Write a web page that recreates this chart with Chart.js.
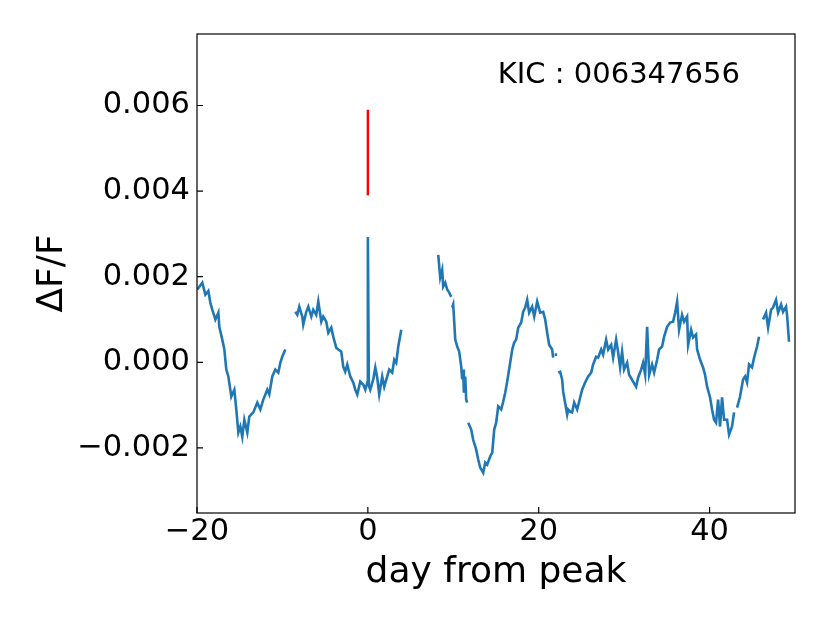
<!DOCTYPE html>
<html><head><meta charset="utf-8">
<script src="https://cdn.jsdelivr.net/npm/chart.js@4.4.1/dist/chart.umd.min.js"></script>
<style>html,body{margin:0;padding:0;background:#fff;}#wrap{width:830px;height:623px;}</style>
</head><body><div id="wrap"><canvas id="c" width="830" height="623"></canvas></div>
<script>
// Light curve segments (day from peak, ΔF/F)
const day1 = [-19.96,-19.38,-19.02,-18.67,-18.44,-18.21,-17.85,-17.50,-17.39,-17.04,-16.80,-16.57,-16.33,-15.98,-15.63,-15.40,-15.16,-14.93,-14.70,-14.46,-14.11,-13.88,-13.41,-12.94,-12.59,-12.24,-11.77,-11.54,-11.19,-10.83,-10.48,-10.25,-10.02,-9.66];
const flux1 = [0.00170,0.00186,0.00158,0.00167,0.00139,0.00123,0.00100,0.00116,0.00083,0.00053,0.00030,-0.00017,-0.00033,-0.00080,-0.00064,-0.00110,-0.00164,-0.00150,-0.00174,-0.00134,-0.00164,-0.00127,-0.00117,-0.00094,-0.00110,-0.00087,-0.00064,-0.00075,-0.00033,-0.00017,-0.00024,-0.00001,0.00013,0.00030];

const day2 = [-8.49,-8.26,-8.03,-7.68,-7.56,-7.21,-6.97,-6.62,-6.39,-6.04,-5.80,-5.45,-5.22,-4.87,-4.63,-4.28,-4.05,-3.70,-3.46,-3.11,-2.88,-2.65,-2.41,-2.06,-1.71,-1.47,-1.24,-0.89,-0.54,-0.30,-0.07,0.00,0.12,0.28,0.63,0.87,1.10,1.33,1.68,1.92,2.27,2.50,2.85,3.09,3.32,3.56,3.91];
const flux2 = [0.00118,0.00111,0.00130,0.00107,0.00088,0.00118,0.00130,0.00107,0.00123,0.00111,0.00142,0.00095,0.00107,0.00095,0.00069,0.00081,0.00060,0.00034,0.00030,0.00025,-0.00010,-0.00022,-0.00005,-0.00033,-0.00047,-0.00064,-0.00075,-0.00045,-0.00052,-0.00064,-0.00047,0.00293,-0.00055,-0.00064,-0.00040,-0.00012,-0.00036,-0.00075,-0.00033,-0.00057,-0.00033,-0.00017,-0.00024,0.00006,-0.00001,0.00037,0.00076];

const day3 = [8.24,8.47,8.70,8.82,9.06,9.29,9.52,9.76];
const flux3 = [0.00251,0.00198,0.00216,0.00177,0.00186,0.00170,0.00163,0.00153];

const day4 = [9.87,9.99,10.23,10.46,10.69,10.93,11.04,11.16,11.24,11.40,11.51,11.63];
const flux4 = [0.00128,0.00135,0.00053,0.00037,0.00025,-0.00010,-0.00040,-0.00017,-0.00071,-0.00033,-0.00087,-0.00094];

const day5 = [11.75,12.10,12.33,12.68,12.92,13.15,13.50,13.74,13.97,14.32,14.56,14.79,15.02,15.26,15.61,15.84,16.08,16.31,16.66,16.90,17.13,17.36,17.60,17.95,18.18,18.42,18.65,18.88,19.23,19.47,19.70,19.82,20.17,20.52,20.76,20.99,21.22,21.57,21.69];
const flux5 = [-0.00141,-0.00157,-0.00181,-0.00204,-0.00227,-0.00246,-0.00258,-0.00234,-0.00239,-0.00220,-0.00211,-0.00157,-0.00141,-0.00103,-0.00110,-0.00092,-0.00071,-0.00045,-0.00001,0.00030,0.00046,0.00053,0.00081,0.00093,0.00118,0.00128,0.00146,0.00116,0.00130,0.00107,0.00130,0.00142,0.00116,0.00118,0.00100,0.00069,0.00041,0.00030,0.00011];

const day6 = [21.87,22.16];
const flux6 = [0.00018,0.00018];

const day7 = [22.28,22.51,22.74,22.86,23.33,23.45,23.68,23.91,24.15,24.50,24.73,25.08,25.43,25.79,26.14,26.37,26.72,26.96,27.31,27.54,27.89,28.13,28.48,28.71,29.06,29.30,29.53,29.76,29.99,30.35,30.58,31.05,31.40,31.63,31.99,32.22,32.46,32.69,32.93,33.27,33.51,33.86,34.09,34.44,34.68,35.03,35.38,35.73,35.97,36.20,36.43,36.78,37.02,37.37,37.49,37.84,38.07,38.42,38.54,38.89,39.24,39.47,39.71,40.06,40.29,40.53,40.76,41.00,41.23,41.46,41.70,42.05,42.28,42.63,42.87];
const flux7 = [-0.00024,-0.00022,-0.00040,-0.00068,-0.00122,-0.00110,-0.00115,-0.00117,-0.00094,-0.00110,-0.00092,-0.00064,-0.00047,-0.00033,-0.00024,-0.00005,0.00013,0.00011,0.00030,0.00018,0.00053,0.00030,0.00041,0.00011,0.00053,0.00023,-0.00012,0.00025,-0.00017,-0.00001,-0.00029,-0.00045,-0.00057,-0.00036,-0.00017,-0.00001,-0.00029,0.00083,-0.00029,-0.00005,-0.00024,0.00006,0.00030,0.00037,0.00060,0.00083,0.00093,0.00095,0.00116,0.00142,0.00076,0.00111,0.00095,0.00107,0.00041,0.00076,0.00058,0.00065,0.00030,0.00006,-0.00012,-0.00029,-0.00057,-0.00082,-0.00110,-0.00134,-0.00141,-0.00087,-0.00150,-0.00082,-0.00134,-0.00134,-0.00169,-0.00150,-0.00117];

const day8 = [43.22,43.57,43.92,44.16,44.39,44.62,44.97,45.21,45.56,45.79];
const flux8 = [-0.00106,-0.00080,-0.00040,-0.00033,-0.00047,-0.00005,-0.00012,0.00011,0.00037,0.00060];

const day9 = [46.26,46.61,46.85,47.20,47.43,47.78,48.02,48.37,48.60,48.95,49.07,49.30];
const flux9 = [0.00100,0.00116,0.00081,0.00123,0.00128,0.00146,0.00116,0.00135,0.00118,0.00130,0.00111,0.00048];

// Red marker line above the peak
const markerDay = [0, 0];
const markerFlux = [0.0039, 0.0059];

const xTicks = [-20, 0, 20, 40];
const yTicks = [-0.002, 0, 0.002, 0.004, 0.006];
const xRange = [-20, 50];
const yRange = [-0.00352, 0.00767];
const kicLabel = 'KIC : 006347656';

const segments = [[day1,flux1],[day2,flux2],[day3,flux3],[day4,flux4],[day5,flux5],[day6,flux6],[day7,flux7],[day8,flux8],[day9,flux9]];
const curve = [];
segments.forEach((s, i) => {
  if (i > 0) {
    const prev = segments[i-1][0];
    curve.push({x: (prev[prev.length-1] + s[0][0]) / 2, y: null});
  }
  s[0].forEach((d, j) => curve.push({x: d, y: s[1][j]}));
});
const marker = markerDay.map((d, i) => ({x: d, y: markerFlux[i]}));

const FONT = '"DejaVu Sans", sans-serif';

const frame = {
  id: 'frame',
  afterDraw(chart) {
    const {ctx, chartArea: a, scales: {x, y}} = chart;
    ctx.save();
    ctx.strokeStyle = '#000';
    ctx.lineWidth = 1.2;
    ctx.strokeRect(a.left, a.top, a.right - a.left, a.bottom - a.top);
    ctx.beginPath();
    x.ticks.forEach(t => { const px = x.getPixelForValue(t.value); ctx.moveTo(px, a.bottom); ctx.lineTo(px, a.bottom - 6); });
    y.ticks.forEach(t => { const py = y.getPixelForValue(t.value); ctx.moveTo(a.left, py); ctx.lineTo(a.left + 6, py); });
    ctx.stroke();
    ctx.font = '29px ' + FONT;
    ctx.fillStyle = '#000';
    ctx.textAlign = 'left';
    ctx.textBaseline = 'alphabetic';
    ctx.fillText(kicLabel, a.left + 0.503 * (a.right - a.left), a.top + 0.102 * (a.bottom - a.top));
    ctx.restore();
  }
};

new Chart(document.getElementById('c'), {
  type: 'scatter',
  data: {
    datasets: [
      {data: curve, showLine: true, spanGaps: false, borderColor: '#1f77b4', borderWidth: 2.6, pointRadius: 0, tension: 0},
      {data: marker, showLine: true, borderColor: '#ff0000', borderWidth: 2.4, pointRadius: 0}
    ]
  },
  options: {
    responsive: false,
    animation: false,
    devicePixelRatio: 1,
    layout: {padding: {left: 0, top: 34, right: 35, bottom: 0}},
    plugins: {legend: {display: false}, tooltip: {enabled: false}},
    scales: {
      x: {
        type: 'linear', position: 'bottom', min: xRange[0], max: xRange[1],
        afterBuildTicks: s => { s.ticks = xTicks.map(v => ({value: v})); },
        afterFit: s => { s.height = 110; },
        grid: {display: false, drawTicks: false},
        border: {display: false},
        ticks: {color: '#000', font: {family: FONT, size: 30.5}, padding: 1, autoSkip: false, maxRotation: 0,
          callback: v => (v < 0 ? '\u2212' : '') + Math.abs(v)},
        title: {display: true, text: 'day from peak', color: '#000', font: {family: FONT, size: 36}, padding: {top: 0, bottom: 29}}
      },
      y: {
        type: 'linear', position: 'left', min: yRange[0], max: yRange[1],
        afterBuildTicks: s => { s.ticks = yTicks.map(v => ({value: v})); },
        afterFit: s => { s.width = 197; },
        grid: {display: false, drawTicks: false},
        border: {display: false},
        ticks: {color: '#000', font: {family: FONT, size: 30.5}, padding: 7, autoSkip: false,
          callback: v => (v < -1e-9 ? '\u2212' : '') + Math.abs(v).toFixed(3)},
        title: {display: true, text: '\u0394F/F', color: '#000', font: {family: FONT, size: 36}, padding: {top: 31, bottom: 0}}
      }
    }
  },
  plugins: [frame]
});
</script>
</body></html>
